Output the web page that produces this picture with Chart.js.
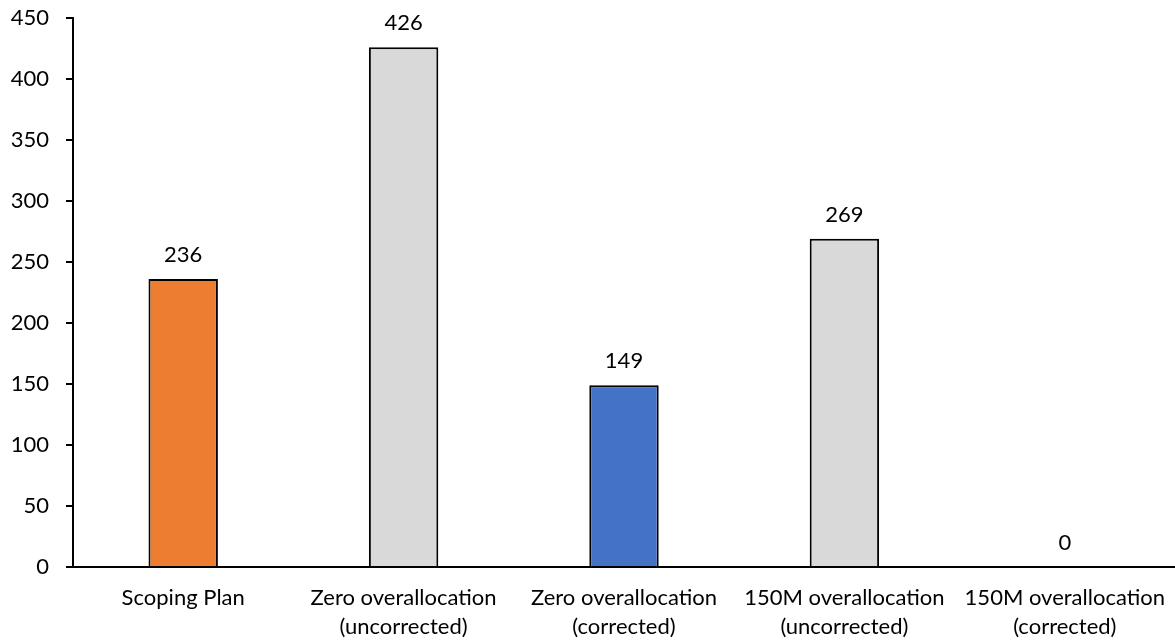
<!DOCTYPE html>
<html>
<head>
<meta charset="utf-8">
<script src="https://cdn.jsdelivr.net/npm/chart.js@4/dist/chart.umd.min.js"></script>
<style>
  html, body { margin: 0; padding: 0; background: #ffffff; }
  #wrap { width: 1175px; height: 641px; position: relative; }
</style>
</head>
<body>
<div id="wrap"><canvas id="chart"></canvas></div>
<script>
// Scenario categories (two-line labels) and their values
const categories = [
  ["Scoping Plan"],
  ["Zero overallocation", "(uncorrected)"],
  ["Zero overallocation", "(corrected)"],
  ["150M overallocation", "(uncorrected)"],
  ["150M overallocation", "(corrected)"]
];
const values = [236, 426, 149, 269, 0];
const barColors = ["#ED7D31", "#D9D9D9", "#4472C4", "#D9D9D9", "#D9D9D9"];
const yTicks = [0, 50, 100, 150, 200, 250, 300, 350, 400, 450];

const FONT = "Lato, 'Open Sans', sans-serif";
const FONT_SIZE = 22;

// Writes each bar's value above its top
const valueLabels = {
  id: "valueLabels",
  afterDatasetsDraw(chart) {
    const ctx = chart.ctx;
    const meta = chart.getDatasetMeta(0);
    const y = chart.scales.y;
    ctx.save();
    ctx.font = FONT_SIZE + "px " + FONT;
    ctx.fillStyle = "#000000";
    ctx.textAlign = "center";
    ctx.textBaseline = "middle";
    meta.data.forEach((bar, i) => {
      const v = values[i];
      ctx.fillText(String(v), bar.x, y.getPixelForValue(v) - 24);
    });
    ctx.restore();
  }
};

new Chart(document.getElementById("chart"), {
  type: "bar",
  data: {
    labels: categories,
    datasets: [{
      data: values,
      backgroundColor: barColors,
      borderColor: "#000000",
      borderWidth: 2,
      borderSkipped: "start",
      categoryPercentage: 1.0,
      barPercentage: 0.315
    }]
  },
  options: {
    responsive: true,
    maintainAspectRatio: false,
    animation: false,
    layout: { padding: { top: 18, right: 0, left: 0, bottom: 0 } },
    plugins: {
      legend: { display: false },
      tooltip: { enabled: false }
    },
    scales: {
      x: {
        grid: { display: false, drawTicks: false },
        border: { display: true, color: "#000000", width: 2 },
        ticks: {
          color: "#000000",
          font: { family: FONT, size: FONT_SIZE, lineHeight: 1.33 },
          padding: 16,
          maxRotation: 0,
          autoSkip: false
        },
        afterFit(scale) {
          scale.height = 74;
          scale.paddingLeft = 0;
          scale.paddingRight = 0;
        }
      },
      y: {
        min: 0,
        max: 450,
        afterBuildTicks(scale) { scale.ticks = yTicks.map(v => ({ value: v })); },
        grid: {
          display: true,
          drawOnChartArea: false,
          drawTicks: true,
          tickLength: 7,
          color: "#000000",
          lineWidth: 2
        },
        border: { display: true, color: "#000000", width: 2 },
        ticks: {
          color: "#000000",
          font: { family: FONT, size: FONT_SIZE },
          padding: 17
        },
        afterFit(scale) {
          scale.width = 73;
          scale.paddingTop = 0;
          scale.paddingBottom = 0;
        }
      }
    }
  },
  plugins: [valueLabels]
});
</script>
</body>
</html>
